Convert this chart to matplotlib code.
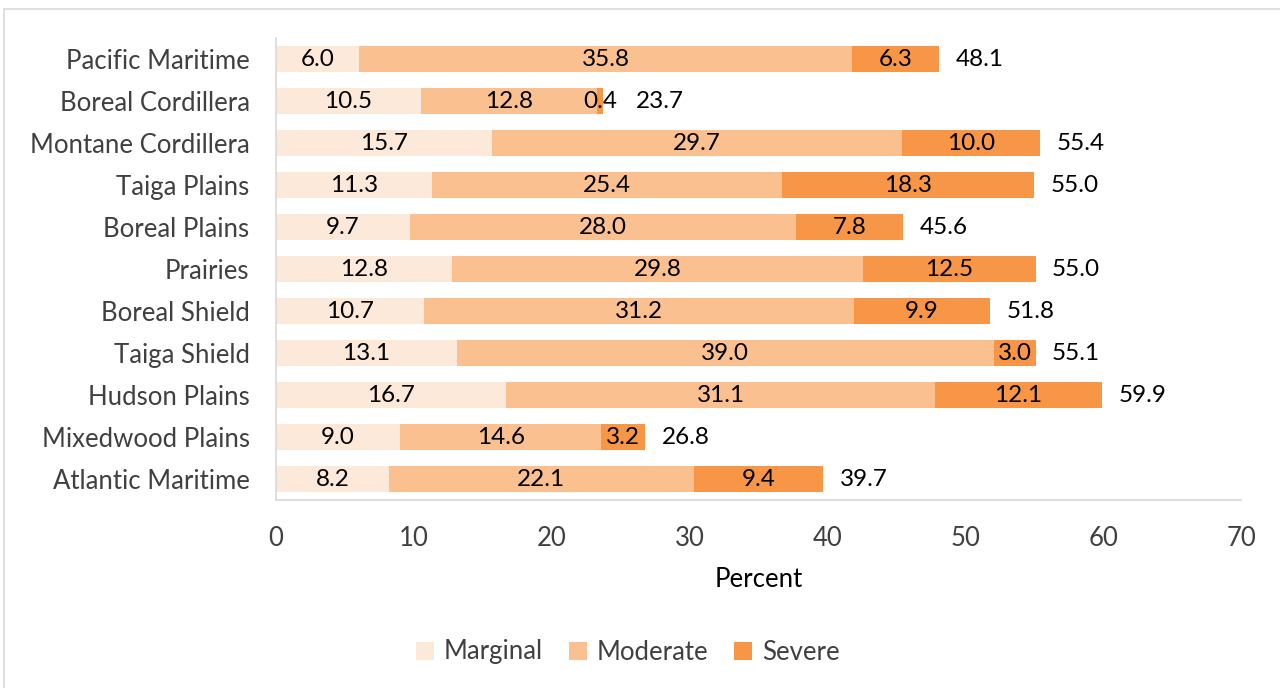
import matplotlib
matplotlib.use("Agg")
import matplotlib.pyplot as plt
from matplotlib.patches import Rectangle
import numpy as np

plt.rcParams['font.family'] = ['Lato', 'DejaVu Sans']

regions = ["Pacific Maritime", "Boreal Cordillera", "Montane Cordillera", "Taiga Plains",
           "Boreal Plains", "Prairies", "Boreal Shield", "Taiga Shield", "Hudson Plains",
           "Mixedwood Plains", "Atlantic Maritime"]
marginal = [6.0, 10.5, 15.7, 11.3, 9.7, 12.8, 10.7, 13.1, 16.7, 9.0, 8.2]
moderate = [35.8, 12.8, 29.7, 25.4, 28.0, 29.8, 31.2, 39.0, 31.1, 14.6, 22.1]
severe = [6.3, 0.4, 10.0, 18.3, 7.8, 12.5, 9.9, 3.0, 12.1, 3.2, 9.4]
totals = [48.1, 23.7, 55.4, 55.0, 45.6, 55.0, 51.8, 55.1, 59.9, 26.8, 39.7]
series_names = ["Marginal", "Moderate", "Severe"]
colors = ["#FDE9D9", "#FAC090", "#F79646"]

fig = plt.figure(figsize=(12.8, 6.88), dpi=100)
fig.patches.append(Rectangle((4/1280, -0.01), 1.0, 1 - 9/688 + 0.01, transform=fig.transFigure,
                             fill=False, edgecolor="#D9D9D9", linewidth=1.2))
ax = fig.add_axes([276/1280, 1 - 500/688, (1241-276)/1280, (500-38)/688])

y = np.arange(len(regions))
left = np.zeros(len(regions))
fs = 17.5
tfs = 18.5
for vals, name, c in zip([marginal, moderate, severe], series_names, colors):
    vals = np.array(vals)
    ax.barh(y, vals, left=left, height=0.62, color=c, label=name)
    for yi, l, v in zip(y, left, vals):
        ax.text(l + v/2, yi, f"{v:.1f}", ha="center", va="center", fontsize=fs, color="black")
    left = left + vals

sev_centers = left - np.array(severe) / 2
for yi, l, sc, t in zip(y, left, sev_centers, totals):
    xpos = max(l + 1.2, sc + 2.6)
    ax.text(xpos, yi, f"{t:.1f}", ha="left", va="center", fontsize=fs, color="black")

ax.set_xlim(0, 70)
ax.set_ylim(len(regions) - 0.5, -0.5)
ax.set_yticks(y)
ax.set_yticklabels(regions)
ax.set_xticks(range(0, 71, 10))
ax.tick_params(axis="both", length=0, labelsize=tfs, colors="#404040")
ax.tick_params(axis="y", pad=19)
ax.tick_params(axis="x", pad=19)
for s in ["top", "right"]:
    ax.spines[s].set_visible(False)
for s in ["left", "bottom"]:
    ax.spines[s].set_color("#D9D9D9")
    ax.spines[s].set_linewidth(1.2)
ax.set_xlabel("Percent", fontsize=tfs, color="black", labelpad=11)

handles, labels = ax.get_legend_handles_labels()
fig.legend(handles, labels, loc="center", bbox_to_anchor=(628/1280, 1 - 652/688), ncol=3,
           frameon=False, fontsize=tfs, labelcolor="#404040", handlelength=0.7, handleheight=0.7,
           columnspacing=1.0, handletextpad=0.4)

fig.savefig("out.png", dpi=100)
